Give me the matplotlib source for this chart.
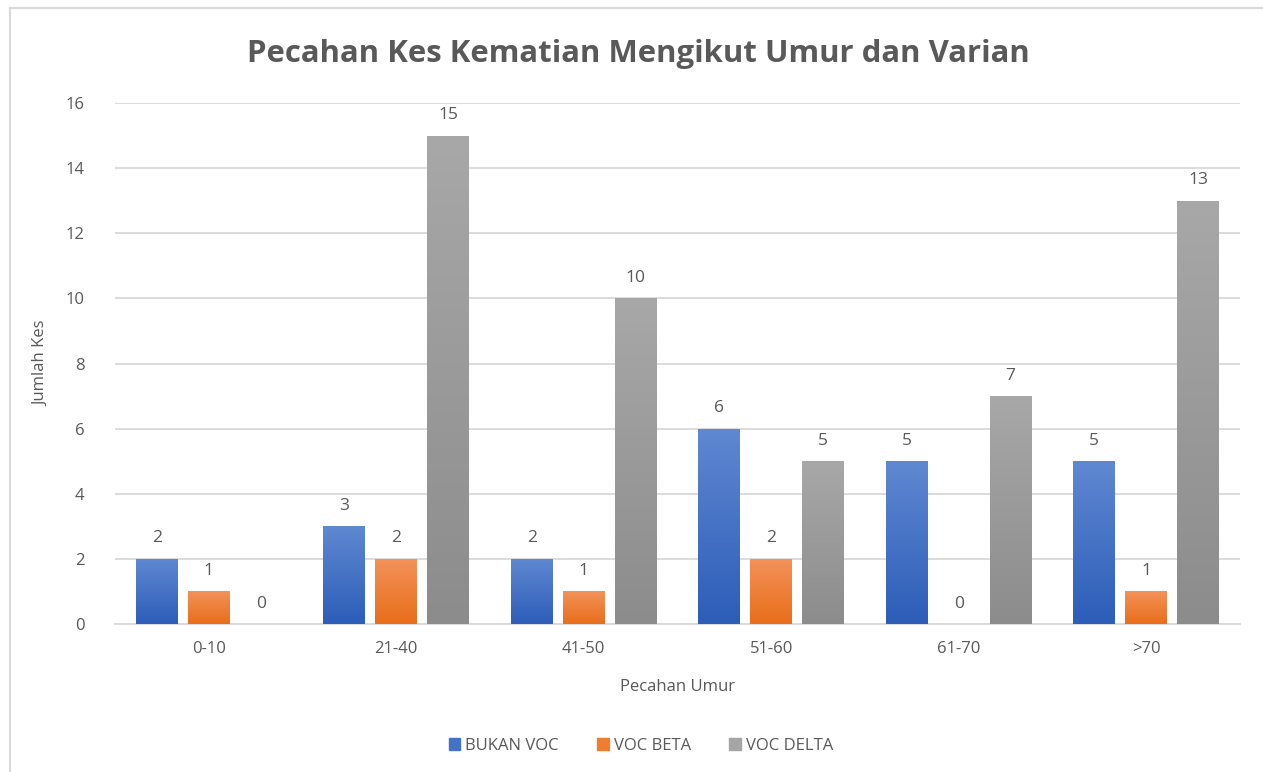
import matplotlib
matplotlib.use("Agg")
import matplotlib.pyplot as plt
import numpy as np
from matplotlib.patches import Rectangle
from matplotlib.colors import LinearSegmentedColormap

categories = ["0-10", "21-40", "41-50", "51-60", "61-70", ">70"]
bukan_voc = [2, 3, 2, 6, 5, 5]
voc_beta = [1, 2, 1, 2, 0, 1]
voc_delta = [0, 15, 10, 5, 7, 13]
series_names = ["BUKAN VOC", "VOC BETA", "VOC DELTA"]

plt.rcParams['font.family'] = ['Open Sans', 'DejaVu Sans']
txt = '#595959'

fig = plt.figure(figsize=(12.63, 7.72), dpi=100)
ax = fig.add_axes([115/1263, 1-624/772, (1240-115)/1263, (624-103)/772])

# outer chart border
fig.patches.append(Rectangle((10/1263, -0.01), 1.2, 1-8/772+0.01, transform=fig.transFigure,
                             fill=False, edgecolor='#d9d9d9', linewidth=1.5))

x = np.arange(len(categories))
w = 0.223
step = 0.277
grads = [('#6088d2', '#2c5db8'), ('#f3925a', '#e86e1a'), ('#a8a8a8', '#8c8c8c')]
solid = ['#4472c4', '#ed7d31', '#a5a5a5']
all_series = [bukan_voc, voc_beta, voc_delta]

ax.set_xlim(-0.5, len(categories) - 0.5)
ax.set_ylim(0, 16)

for i, (vals, (ctop, cbot)) in enumerate(zip(all_series, grads)):
    cmap = LinearSegmentedColormap.from_list('g%d' % i, [cbot, ctop])
    xs = x + (i - 1) * step
    bars = ax.bar(xs, vals, width=w, color=solid[i], zorder=3, label=series_names[i])
    for b, v in zip(bars, vals):
        if v > 0:
            grad = np.linspace(0, 1, 256).reshape(-1, 1)
            im = ax.imshow(grad, cmap=cmap, origin='lower', aspect='auto',
                           extent=[b.get_x(), b.get_x() + b.get_width(), 0, v], zorder=4)
            im.set_clip_path(b)
        ax.annotate(str(v), (b.get_x() + b.get_width() / 2, v), xytext=(0, 9),
                    textcoords='offset points', ha='center', va='bottom',
                    fontsize=12.5, color=txt)

ax.set_xlim(-0.5, len(categories) - 0.5)
ax.set_ylim(0, 16)
ax.set_yticks(range(0, 17, 2))
ax.set_xticks(x)
ax.set_xticklabels(categories)
ax.grid(axis='y', color='#d9d9d9', linewidth=1.3, zorder=0)
ax.set_axisbelow(True)
for s in ['top', 'right', 'left']:
    ax.spines[s].set_visible(False)
ax.spines['bottom'].set_color('#d9d9d9')
ax.spines['bottom'].set_linewidth(1.3)
ax.tick_params(axis='both', length=0, labelsize=12, colors=txt, pad=12)
ax.tick_params(axis='y', pad=22)
ax.set_xlabel('Pecahan Umur', fontsize=12, color=txt, labelpad=16)
ax.set_ylabel('Jumlah Kes', fontsize=12, color=txt, labelpad=12)

fig.text(638/1263, 1-54/772, 'Pecahan Kes Kematian Mengikut Umur dan Varian',
         ha='center', va='center', fontsize=22.4, fontweight='bold', color=txt)

handles = [Rectangle((0, 0), 1, 1, color=c) for c in solid]
fig.legend(handles, series_names, loc='center', bbox_to_anchor=(641/1263, 1-746/772),
           ncol=3, frameon=False, fontsize=12, labelcolor=txt,
           handlelength=0.7, handleheight=0.7, handletextpad=0.3, columnspacing=2.3)

fig.savefig('out.png', dpi=100)
